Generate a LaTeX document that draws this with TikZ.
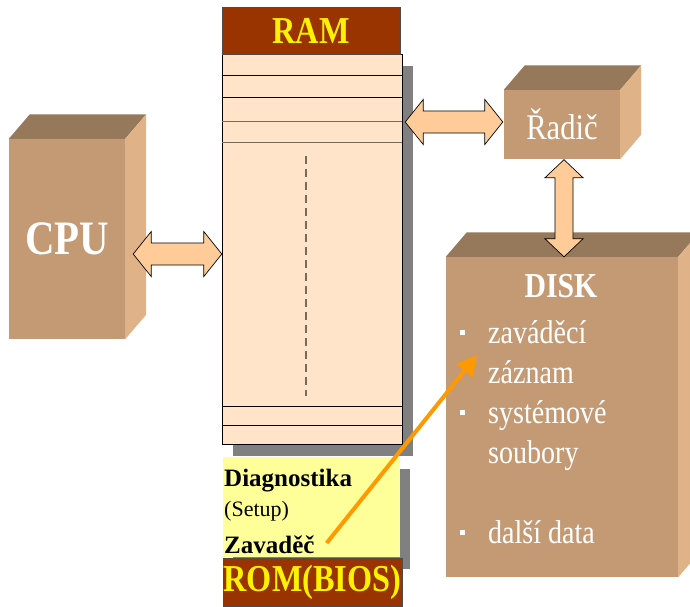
\documentclass[tikz,border=0pt]{standalone}
\usepackage{fontspec}
\setmainfont{Liberation Serif}
\newfontfamily\narrowfont{Liberation Serif}[FakeStretch=0.85]
\usetikzlibrary{calc,arrows.meta,shadows}

\definecolor{boxfront}{RGB}{196,154,116}
\definecolor{boxtop}{RGB}{150,120,90}
\definecolor{boxside}{RGB}{224,178,135}
\definecolor{busfill}{RGB}{255,204,153}
\definecolor{ramfill}{RGB}{255,228,202}
\definecolor{romfill}{RGB}{153,51,0}
\definecolor{biosfill}{RGB}{255,255,153}
\definecolor{shade}{RGB}{128,128,128}
\definecolor{cellgray}{RGB}{120,105,90}
\definecolor{loadline}{RGB}{255,153,0}

\newcommand{\fsize}[1]{\fontsize{#1}{#1}\selectfont}

\tikzset{front/.style={fill=boxfront, inner sep=0pt, text=white, font=\narrowfont\bfseries\fsize{48}},
romcap/.style={draw=black!70, fill=romfill, inner sep=0pt, text=yellow, font=\narrowfont\bfseries\fsize{38}},
bus/.style={draw=black, line width=0.7pt, fill=busfill},
biostext/.style={anchor=base west, inner sep=0pt, font=\bfseries\fsize{25}},
disktext/.style={anchor=base west, inner sep=0pt, text=white, font=\narrowfont\fsize{33}},
dropshade/.style={drop shadow={shadow xshift=#1, shadow yshift=-12pt, fill=shade, opacity=1}},
dropshade/.default={11pt}}

% top and side face of a box
\newcommand{\boxsides}[1]{%
  \fill[boxtop] (#1.north west) -- ++(21,-24.5) -- ($(#1.north east)+(21,-24.5)$) -- (#1.north east) -- cycle;
  \fill[boxside] (#1.north east) -- ++(21,-24.5) -- ($(#1.south east)+(21,-24.5)$) -- (#1.south east) -- cycle;}

\newcommand{\hbus}[2]{%
  \draw[bus] (#1) -- ($(#1)+(18,-22.5)$) -- ($(#1)+(18,-11)$) -- ($(#2)+(-18,-11)$) -- ($(#2)+(-18,-22.5)$)
    -- (#2) -- ($(#2)+(-18,22.5)$) -- ($(#2)+(-18,11)$) -- ($(#1)+(18,11)$) -- ($(#1)+(18,22.5)$) -- cycle;}

\newcommand{\vbus}[2]{%
  \draw[bus] (#1) -- ($(#1)+(19,18)$) -- ($(#1)+(9,18)$) -- ($(#2)+(9,-18)$) -- ($(#2)+(19,-18)$)
    -- (#2) -- ($(#2)+(-19,-18)$) -- ($(#2)+(-9,-18)$) -- ($(#1)+(-9,18)$) -- ($(#1)+(-19,18)$) -- cycle;}

\begin{document}
\begin{tikzpicture}[x=1pt,y=-1pt]

    \useasboundingbox (0,0) rectangle (690,606);

    \node[front, minimum width=116, minimum height=200] (cpu) at (67,239) {CPU};
    \boxsides{cpu}

    \node[draw=black, fill=ramfill, minimum width=180, minimum height=390, inner sep=0pt, dropshade] (ram) at (312,249) {};
    \foreach \dy/\col in {22/black, 44/black, 68/cellgray, 89/cellgray, 353/black, 372/black}
    \draw[\col, line width=1.2pt] ($(ram.north west)+(0,\dy)$) -- ++(180,0);
    \draw[cellgray, line width=1.2pt, dash pattern=on 8pt off 5pt] ($(ram.north)+(-6,102)$) -- ++(0,240);

    \node[romcap, minimum width=178, minimum height=47] (ramtitle) at (311,30.5) {RAM};

    \node[fill=biosfill, minimum width=177, minimum height=100, inner sep=0pt, dropshade=10pt] (bios) at (311.5,507) {};
    \node[romcap, minimum width=179, minimum height=48] (rom) at (312.5,582) {ROM(BIOS)};
    \node[biostext] (diag) at (224,486) {Diagnostika};
    \node[biostext, font=\fsize{22}] (setup) at (224,516) {(Setup)};
    \node[biostext] (zav) at (224,553) {Zavaděč};

    \node[front, font=\narrowfont\fsize{36}, minimum width=116, minimum height=69] (radic) at (562,124.5) {Řadič};
    \boxsides{radic}

    \node[front, minimum width=232, minimum height=320] (disk) at (562,417) {};
    \boxsides{disk}
    \node[front, anchor=base, font=\narrowfont\bfseries\fsize{35}, fill=none] (disktitle) at (561,297) {DISK};

    \foreach \txt/\yy [count=\i] in {zaváděcí/343, záznam/383, systémové/423, soubory/463, další data/543}
    \node[disktext] (item\i) at (488,\yy) {\txt};
    \foreach \i in {1,3,5}
    \fill[white] ($(item\i.base west)+(-28,-8)$) rectangle ++(5,-5);

    % buses
    \coordinate (cpuport) at ($(cpu.east)+(8,15)$);
    \coordinate (ramin) at (cpuport -| ram.west);
    \hbus{cpuport}{ramin}

    \coordinate (radicin) at ($(radic.west)+(-1,-2.5)$);
    \coordinate (ramout) at ($(radicin -| ram.east)+(3,0)$);
    \hbus{ramout}{radicin}

    \coordinate (radicout) at ($(radic.south)+(2,0.5)$);
    \coordinate (diskin) at (radicout |- disk.north);
    \vbus{radicout}{diskin}

    \coordinate (loadtip) at (477,355);
    \draw[loadline, line width=4pt, -{Triangle[length=20pt,width=20pt]}] ($(zav.base east)+(12,-10)$) -- (loadtip);

  \end{tikzpicture}
\end{document}
